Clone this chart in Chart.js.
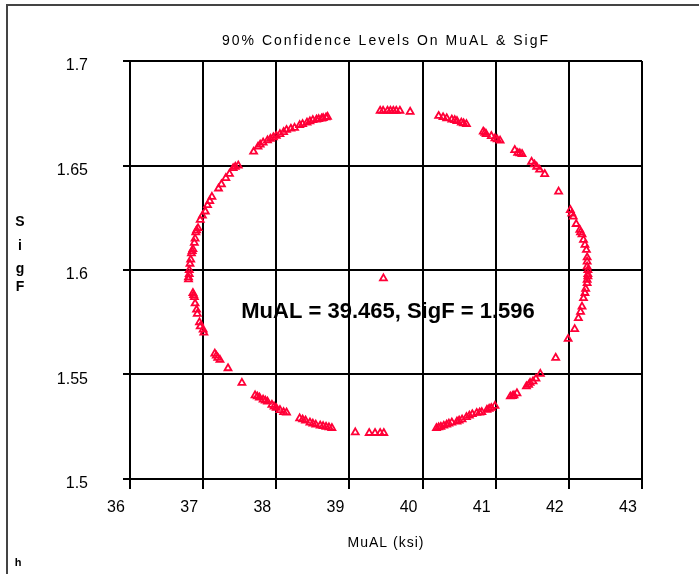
<!DOCTYPE html>
<html>
<head>
<meta charset="utf-8">
<script src="https://cdn.jsdelivr.net/npm/chart.js@4/dist/chart.umd.min.js"></script>
<style>
  body { margin: 0; background: #fff; }
  #wrap { width: 699px; height: 574px; }
</style>
</head>
<body>
<div id="wrap"><canvas id="grafico" width="699" height="574"></canvas></div>
<script>
const titulo = '90% Confidence Levels On MuAL & SigF'
const tituloX = 'MuAL (ksi)'
const tituloY = ['S', 'i', 'g', 'F']
const anotacao = 'MuAL = 39.465, SigF = 1.596'

const ticksX = [36, 37, 38, 39, 40, 41, 42, 43]
const ticksY = [1.5, 1.55, 1.6, 1.65, 1.7]

// contorno de 90% (MuAL, SigF)
const muAL = [
  38.70, 38.68, 38.64, 38.62, 38.58, 38.55, 38.50, 38.46, 38.42, 38.36, 38.32, 38.25, 38.20, 38.14, 38.10, 38.05, 38.00, 37.96,
  37.92, 37.88, 37.82, 37.78, 37.75, 37.69, 37.48, 37.44, 37.41, 37.36, 37.31, 37.25, 37.21,
  37.12, 37.09, 37.06, 37.03, 36.99, 36.96, 36.93, 36.91, 36.90, 36.89, 36.88, 36.86,
  36.85, 36.84, 36.83, 36.82, 36.81, 36.81, 36.80, 36.80,
  36.86, 36.87, 36.88, 36.89, 36.91, 36.92, 36.95, 36.96, 37.00, 37.01, 37.16, 37.18, 37.20,
  37.23, 37.34, 37.53, 37.71, 37.74, 37.77, 37.82, 37.85, 37.88, 37.94, 37.97, 38.00, 38.05,
  38.10, 38.14, 38.32, 38.36, 38.40, 38.46, 38.50, 38.54, 38.60, 38.64, 38.68, 38.72, 38.76,
  39.08, 39.27, 39.35, 39.42, 39.47,
  40.19, 40.22, 40.25, 40.29, 40.33, 40.36, 40.40, 40.47, 40.50, 40.54, 40.60, 40.64, 40.68, 40.74, 40.78, 40.81,
  40.88, 40.91, 40.94, 40.99, 41.20, 41.23, 41.25, 41.29, 41.42, 41.45, 41.47, 41.51, 41.55,
  41.61, 41.82, 41.99, 42.08, 42.13, 42.16, 42.18, 42.20, 42.22, 42.23, 42.25,
  42.25, 42.26, 42.26, 42.26, 42.25, 42.25, 42.25, 42.24, 42.22, 42.20, 42.18, 42.16, 42.15,
  42.10, 42.06, 42.04, 42.02, 41.86, 41.67, 41.60, 41.56, 41.53, 41.49, 41.36, 41.33, 41.30,
  41.26, 41.06, 41.02, 40.99, 40.94, 40.87, 40.85, 40.83, 40.60, 40.56, 40.53, 40.47, 40.44, 40.40,
  40.33, 40.28, 40.22,
  39.83, 39.69, 39.64, 39.60, 39.56, 39.52, 39.46, 39.42
]
const sigF = [
  1.6733, 1.6730, 1.6727, 1.6725, 1.6722, 1.6720, 1.6717, 1.6711, 1.6705, 1.6698, 1.6693, 1.6680, 1.6676, 1.6670, 1.6660, 1.6650, 1.6642, 1.6635,
  1.6628, 1.6620, 1.6610, 1.6600, 1.6590, 1.6566, 1.6500, 1.6494, 1.6487, 1.6460, 1.6440, 1.6410, 1.6390,
  1.6350, 1.6330, 1.6310, 1.6280, 1.6260, 1.6240, 1.6200, 1.6190, 1.6180, 1.6150, 1.6130, 1.6100,
  1.6090, 1.6080, 1.6050, 1.6030, 1.6000, 1.5980, 1.5965, 1.5955,
  1.5890, 1.5880, 1.5870, 1.5840, 1.5810, 1.5790, 1.5750, 1.5730, 1.5715, 1.5700, 1.5600, 1.5590, 1.5580,
  1.5570, 1.5530, 1.5460, 1.5400, 1.5395, 1.5390, 1.5380, 1.5375, 1.5370, 1.5355, 1.5347, 1.5340, 1.5330,
  1.5320, 1.5318, 1.5290, 1.5285, 1.5280, 1.5270, 1.5265, 1.5260, 1.5256, 1.5253, 1.5250, 1.5247, 1.5244,
  1.5223, 1.5220, 1.5220, 1.5220, 1.5220,
  1.5244, 1.5247, 1.5250, 1.5255, 1.5260, 1.5265, 1.5270, 1.5275, 1.5280, 1.5285, 1.5296, 1.5303, 1.5310, 1.5316, 1.5318, 1.5320,
  1.5331, 1.5336, 1.5340, 1.5350, 1.5395, 1.5397, 1.5400, 1.5410, 1.5443, 1.5450, 1.5460, 1.5467, 1.5480,
  1.5503, 1.5580, 1.5670, 1.5717, 1.5770, 1.5800, 1.5825, 1.5865, 1.5890, 1.5910, 1.5937,
  1.5953, 1.5970, 1.5980, 1.6000, 1.6016, 1.6040, 1.6060, 1.6096, 1.6120, 1.6144, 1.6170, 1.6180, 1.6192,
  1.6220, 1.6255, 1.6270, 1.6287, 1.6375, 1.6459, 1.6480, 1.6494, 1.6505, 1.6518, 1.6555, 1.6558, 1.6560,
  1.6574, 1.6619, 1.6625, 1.6630, 1.6641, 1.6650, 1.6656, 1.6662, 1.6698, 1.6702, 1.6705, 1.6713, 1.6717, 1.6720,
  1.6726, 1.6731, 1.6737,
  1.6757, 1.6762, 1.6762, 1.6762, 1.6762, 1.6762, 1.6762, 1.6762
]
const centroMuAL = [39.465]
const centroSigF = [1.596]

const vermelho = 'rgb(255, 0, 55)'

const pontos = muAL.map((x, i) => ({ x: x, y: sigF[i] }))
  .concat(centroMuAL.map((x, i) => ({ x: x, y: centroSigF[i] })))

const textos = {
  id: 'textos',
  beforeDraw(chart) {
    const c = chart.ctx
    c.save()
    c.fillStyle = '#fff'
    c.fillRect(0, 0, chart.width, chart.height)
    c.restore()
  },
  afterDraw(chart) {
    const c = chart.ctx
    const area = chart.chartArea
    c.save()
    // moldura
    c.strokeStyle = '#444'
    c.lineWidth = 2
    c.beginPath()
    c.moveTo(7, chart.height)
    c.lineTo(7, 5)
    c.lineTo(chart.width, 5)
    c.stroke()

    c.fillStyle = '#000'
    c.textAlign = 'center'
    c.textBaseline = 'middle'

    c.font = '14px "Liberation Sans", Arial, sans-serif'
    c.letterSpacing = '2px'
    c.fillText(titulo, (area.left + area.right) / 2, 41)

    c.letterSpacing = '1px'
    c.fillText(tituloX, (area.left + area.right) / 2, 543)

    c.letterSpacing = '0px'
    c.font = 'bold 14px "Liberation Sans", Arial, sans-serif'
    const ys = [222, 246, 269, 287]
    tituloY.forEach((t, i) => c.fillText(t, 20, ys[i]))

    c.font = 'bold 11px "Liberation Sans", Arial, sans-serif'
    c.fillText('h', 18, 563)

    c.font = 'bold 22px "Liberation Sans", Arial, sans-serif'
    c.fillText(anotacao, 388, 312)
    c.restore()
  }
}

const ctx = document.getElementById('grafico')
const grafico = new Chart(ctx, {
  type: 'scatter',
  data: {
    datasets: [{
      data: pontos,
      pointStyle: 'triangle',
      pointRadius: 4,
      borderWidth: 1.8,
      borderColor: vermelho,
      backgroundColor: 'rgba(255,255,255,0)'
    }]
  },
  options: {
    responsive: false,
    animation: false,
    layout: { autoPadding: false, padding: { left: 0, top: 61, right: 57, bottom: 0 } },
    plugins: { legend: { display: false }, tooltip: { enabled: false } },
    scales: {
      x: {
        type: 'linear',
        min: 36, max: 43,
        afterFit: s => { s.height = 95 },
        afterBuildTicks: s => { s.ticks = ticksX.map(v => ({ value: v })) },
        grid: { color: '#000', lineWidth: 2, tickLength: 10 },
        border: { color: '#000', width: 2 },
        ticks: {
          color: '#000',
          font: { family: '"Liberation Sans", Arial, sans-serif', size: 16 },
          padding: 9,
          labelOffset: -14,
          maxRotation: 0,
          callback: v => String(v)
        }
      },
      y: {
        type: 'linear',
        min: 1.5, max: 1.7,
        afterFit: s => { s.width = 130 },
        afterBuildTicks: s => { s.ticks = ticksY.map(v => ({ value: v })) },
        grid: { color: '#000', lineWidth: 2, tickLength: 7 },
        border: { color: '#000', width: 2 },
        ticks: {
          color: '#000',
          font: { family: '"Liberation Sans", Arial, sans-serif', size: 16 },
          padding: 35,
          labelOffset: 5,
          callback: v => String(+v.toFixed(2))
        }
      }
    }
  },
  plugins: [textos]
})
</script>
</body>
</html>
